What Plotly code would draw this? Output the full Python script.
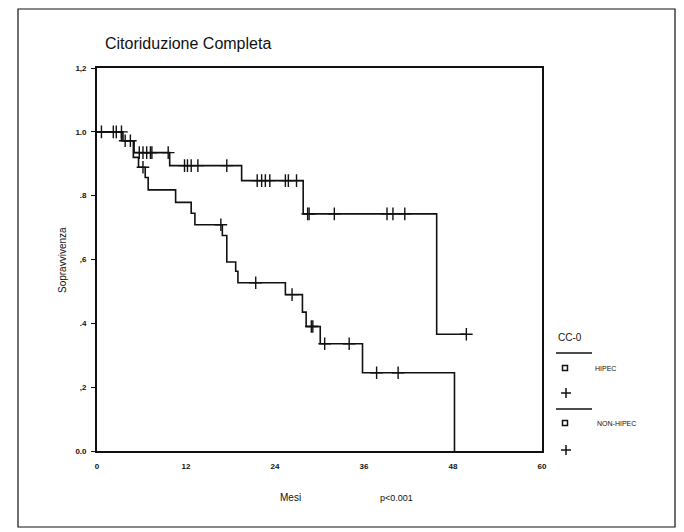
import plotly.graph_objects as go

# ---- data ----
hipec_t = [0, 3.5, 5.0, 9.8, 19.5, 27.8, 45.8, 49.8]
hipec_s = [1.0, 0.972, 0.935, 0.894, 0.847, 0.743, 0.366, 0.366]
hipec_cens_t = [0.6, 2.2, 2.6, 3.3, 4.5, 5.7, 6.2, 6.7, 7.2, 7.4, 9.6,
                11.8, 12.2, 12.7, 13.6, 17.5,
                21.6, 22.2, 22.7, 23.3, 25.4, 25.8, 26.9,
                28.4, 28.6, 32.0, 39.1, 39.9, 41.5, 49.8]
hipec_cens_s = [1.0, 1.0, 1.0, 1.0, 0.972, 0.935, 0.935, 0.935, 0.935, 0.935, 0.935,
                0.894, 0.894, 0.894, 0.894, 0.894,
                0.847, 0.847, 0.847, 0.847, 0.847, 0.847, 0.847,
                0.743, 0.743, 0.743, 0.743, 0.743, 0.743, 0.366]

non_t = [0, 3.3, 4.9, 5.6, 6.5, 6.9, 10.6, 12.7, 13.2, 16.9, 17.5, 18.7, 19.0,
         25.4, 27.7, 28.2, 30.1, 35.8, 48.2]
non_s = [1.0, 0.972, 0.92, 0.889, 0.857, 0.818, 0.779, 0.745, 0.709, 0.675, 0.592,
         0.563, 0.527, 0.49, 0.435, 0.39, 0.336, 0.245, 0.0]
non_cens_t = [3.8, 6.2, 16.7, 21.4, 26.3, 28.9, 29.1, 30.7, 34.0, 37.7, 40.6]
non_cens_s = [0.972, 0.889, 0.709, 0.527, 0.49, 0.39, 0.39, 0.336, 0.336, 0.245, 0.245]

x_ticks = [0, 12, 24, 36, 48, 60]
y_ticks = [0.0, 0.2, 0.4, 0.6, 0.8, 1.0, 1.2]
y_tick_labels = ["0.0", ",2", ".4", ",6", ".8", "1.0", "1,2"]

# ---- layout geometry (page pixels; the page body has an 8px margin) ----
OFF = 8
W, H = 684 - OFF, 532 - OFF
L, R, T, B = 97, 542, 68, 451   # plot area in page pixels


def px(x):
    return (x - L) / (R - L)


def py(y):
    return (B - y) / (B - T)


FONT = "Liberation Sans, Arial, sans-serif"
INK = "#111111"

fig = go.Figure()
fig.add_trace(go.Scatter(x=hipec_t, y=hipec_s, mode="lines", line_shape="hv",
                         line=dict(color=INK, width=1.6), showlegend=False, name="HIPEC"))
fig.add_trace(go.Scatter(x=hipec_cens_t, y=hipec_cens_s, mode="markers",
                         marker=dict(symbol="cross-thin-open", size=9, color=INK,
                                     line=dict(color=INK, width=1.4)),
                         showlegend=False, name="HIPEC censored"))
fig.add_trace(go.Scatter(x=non_t, y=non_s, mode="lines", line_shape="hv",
                         line=dict(color=INK, width=1.6), showlegend=False, name="NON-HIPEC"))
fig.add_trace(go.Scatter(x=non_cens_t, y=non_cens_s, mode="markers",
                         marker=dict(symbol="cross-thin-open", size=9, color=INK,
                                     line=dict(color=INK, width=1.4)),
                         showlegend=False, name="NON-HIPEC censored"))

shapes = []
# outer page frame
shapes.append(dict(type="rect", xref="paper", yref="paper",
                   x0=px(18), x1=px(675), y0=py(527), y1=py(9),
                   line=dict(color=INK, width=1.2)))
# legend lines
for yy in (353, 409):
    shapes.append(dict(type="line", xref="paper", yref="paper",
                       x0=px(556), x1=px(592), y0=py(yy), y1=py(yy),
                       line=dict(color=INK, width=1.4)))
# legend squares
for yy in (368, 423):
    shapes.append(dict(type="rect", xref="paper", yref="paper",
                       x0=px(562.5), x1=px(567.5), y0=py(yy + 2.5), y1=py(yy - 2.5),
                       line=dict(color=INK, width=1.5)))
# legend plus signs
for yy in (393, 450):
    shapes.append(dict(type="line", xref="paper", yref="paper",
                       x0=px(561), x1=px(571), y0=py(yy), y1=py(yy),
                       line=dict(color=INK, width=1.5)))
    shapes.append(dict(type="line", xref="paper", yref="paper",
                       x0=px(566), x1=px(566), y0=py(yy + 5), y1=py(yy - 5),
                       line=dict(color=INK, width=1.5)))

annotations = [
    dict(text="Citoriduzione Completa", x=px(103), y=py(44), xanchor="left", yanchor="middle",
         font=dict(family=FONT, size=16, color=INK)),
    dict(text="Sopravvivenza", x=px(62), y=py(260), textangle=-90, xanchor="center",
         yanchor="middle", font=dict(family=FONT, size=10, color=INK)),
    dict(text="Mesi", x=px(290), y=py(497), xanchor="center", yanchor="middle",
         font=dict(family=FONT, size=10, color=INK)),
    dict(text="p<0.001", x=px(396), y=py(498), xanchor="center", yanchor="middle",
         font=dict(family=FONT, size=9, color=INK)),
    dict(text="CC-0", x=px(556), y=py(337), xanchor="left", yanchor="middle",
         font=dict(family=FONT, size=10, color=INK)),
    dict(text="HIPEC", x=px(593), y=py(368), xanchor="left", yanchor="middle",
         font=dict(family=FONT, size=7, color=INK)),
    dict(text="NON-HIPEC", x=px(595), y=py(423), xanchor="left", yanchor="middle",
         font=dict(family=FONT, size=7, color=INK)),
]
for a in annotations:
    a.update(xref="paper", yref="paper", showarrow=False)

fig.update_layout(
    width=W, height=H,
    margin=dict(l=L - OFF, r=684 - R, t=T - OFF, b=532 - B, pad=0),
    paper_bgcolor="white", plot_bgcolor="white",
    shapes=shapes, annotations=annotations,
    showlegend=False,
    xaxis=dict(range=[0, 60], tickvals=x_ticks, ticktext=[str(v) for v in x_ticks],
               showgrid=False, zeroline=False, showline=True, mirror=True,
               linecolor=INK, linewidth=1.8, ticks="", ticklabelstandoff=6,
               tickfont=dict(family=FONT, size=8, color=INK, weight="bold")),
    yaxis=dict(range=[0, 1.2], tickvals=y_ticks, ticktext=y_tick_labels,
               showgrid=False, zeroline=False, showline=True, mirror=True,
               linecolor=INK, linewidth=1.8, ticks="outside", ticklen=4, tickwidth=1.2,
               tickcolor=INK, ticklabelstandoff=3,
               tickfont=dict(family=FONT, size=8, color=INK, weight="bold")),
)

fig.write_html("out.html")
